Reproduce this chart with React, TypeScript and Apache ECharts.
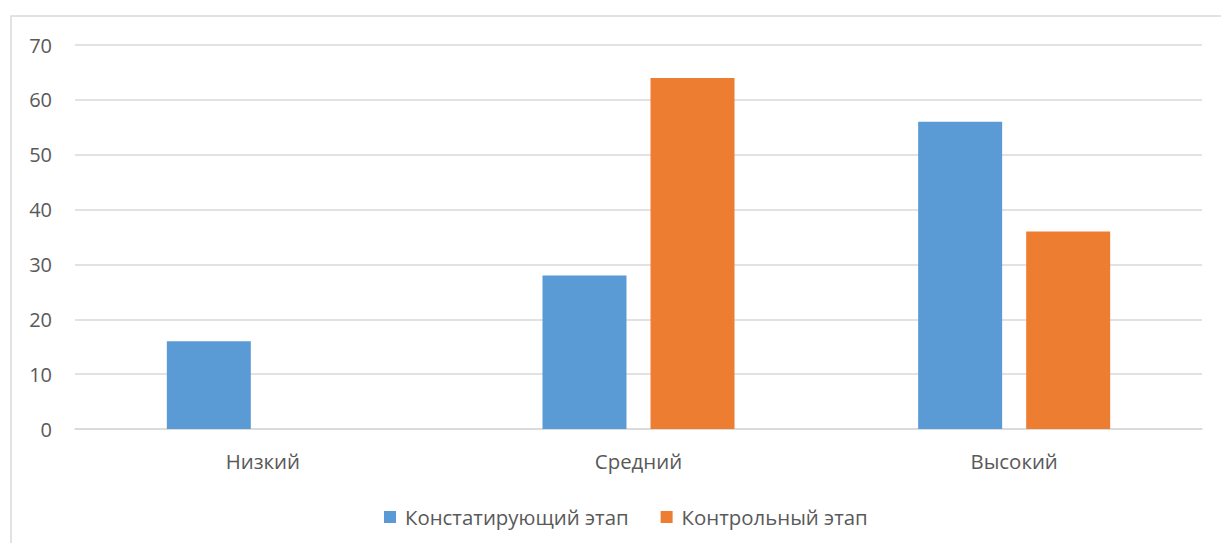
import React, { useEffect, useRef } from "react";
import * as echarts from "echarts";

const categories = ["Низкий", "Средний", "Высокий"];
const seriesNames = ["Констатирующий этап", "Контрольный этап"];
const ascertaining = [16, 28, 56];
const control = [0, 64, 36];
const colors = ["#5B9BD5", "#ED7D31"];

export default function App() {
  const ref = useRef<HTMLDivElement>(null);
  useEffect(() => {
    document.body.style.margin = "0";
    const chart = echarts.init(ref.current!, null, { renderer: "svg" });
    const font = "'Open Sans', 'DejaVu Sans', sans-serif";
    chart.setOption({
      animation: false,
      textStyle: { fontFamily: font },
      graphic: [
        {
          type: "rect",
          shape: { x: 11, y: 16, width: 1400, height: 700 },
          style: { fill: "none", stroke: "#d9d9d9", lineWidth: 1.5 },
          silent: true,
        },
      ],
      grid: { left: 75, right: 19, top: 45, bottom: 114 },
      legend: {
        left: 379,
        top: 502,
        itemWidth: 12,
        itemHeight: 12,
        itemGap: 32,
        icon: "rect",
        textStyle: { fontSize: 20.4, color: "#595959", fontFamily: font, padding: [0, 0, 0, 4] },
        data: seriesNames,
      },
      xAxis: {
        type: "category",
        data: categories,
        axisLine: { lineStyle: { color: "#d9d9d9", width: 1.5 } },
        axisTick: { show: false },
        axisLabel: { fontSize: 20.4, color: "#595959", margin: 22, fontFamily: font },
      },
      yAxis: {
        type: "value",
        min: 0,
        max: 70,
        interval: 10,
        splitLine: { lineStyle: { color: "#d9d9d9", width: 1.5 } },
        axisLine: { show: false },
        axisTick: { show: false },
        axisLabel: { fontSize: 20, color: "#595959", margin: 23, fontFamily: font },
      },
      series: [
        {
          name: seriesNames[0],
          type: "bar",
          data: ascertaining,
          barWidth: 84,
          barGap: "28.6%",
          itemStyle: { color: colors[0] },
        },
        {
          name: seriesNames[1],
          type: "bar",
          data: control,
          barWidth: 84,
          barGap: "28.6%",
          itemStyle: { color: colors[1] },
        },
      ],
    });
    return () => chart.dispose();
  }, []);
  return <div ref={ref} style={{ width: 1221, height: 543 }} />;
}
